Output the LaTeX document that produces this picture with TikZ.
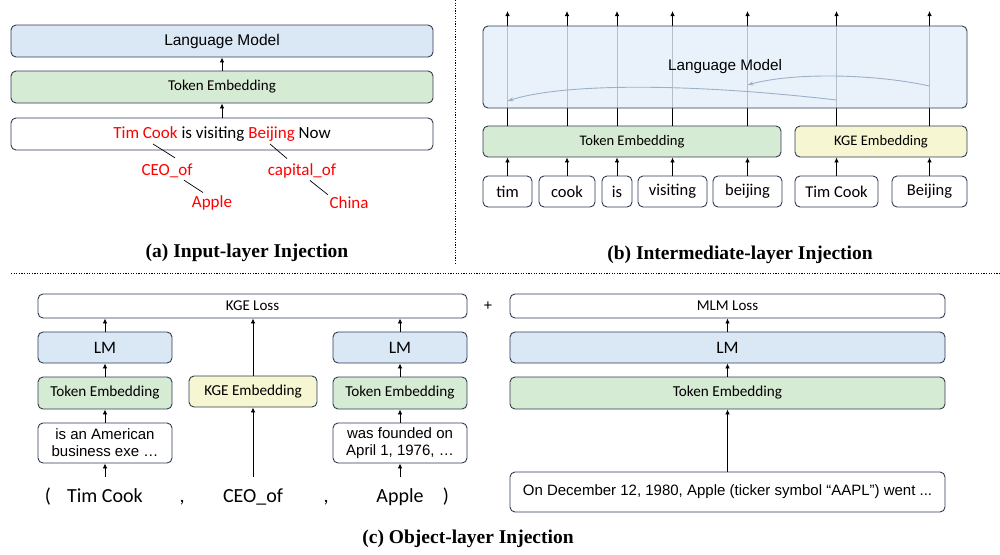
\documentclass[tikz,border=0pt]{standalone}
\usepackage{fontspec}
\setmainfont{Carlito}
\newfontfamily\arialf{Liberation Sans}
\newfontfamily\timesf{Liberation Serif}
\usetikzlibrary{arrows.meta,positioning}

\definecolor{lmblue}{HTML}{DAE8F5}
\definecolor{lmlight}{HTML}{E3EFFA}
\definecolor{embgreen}{HTML}{D6EBD3}
\definecolor{kgeyellow}{HTML}{F6F6D2}
\definecolor{boxline}{HTML}{2F3B52}
\definecolor{curveblue}{HTML}{9DB0C8}

\begin{document}
\begin{tikzpicture}[x=1pt,y=-1pt,
  box/.style={draw=boxline,line width=0.9pt,rounded corners=5pt,inner sep=0pt},
  lmbox/.style={box,fill=lmblue},
  embbox/.style={box,fill=embgreen},
  kgebox/.style={box,fill=kgeyellow},
  txtbox/.style={box,fill=white},
  arr/.style={line width=0.8pt,-{Latex[length=5pt,width=4.5pt]}},
  curve/.style={curveblue,line width=0.9pt,-{Stealth[length=6pt,width=4pt]}},
  rel/.style={text=red,font=\fontsize{17}{20}\selectfont,inner sep=1pt},
  tok/.style={font=\fontsize{16.5}{19}\selectfont},
  word/.style={font=\fontsize{20}{24}\selectfont,inner sep=0pt,text height=14pt,outer ysep=11pt},
  caption/.style={font=\timesf\bfseries\fontsize{19.5}{22}\selectfont},
  sep/.style={line width=0.7pt,dash pattern=on 1.2pt off 1.4pt}]
\useasboundingbox (0,0) rectangle (1000,554);

% separators
\draw[sep] (455,0) -- (455,265);
\draw[sep] (11,273) -- (1000,273);

% (a) input-layer injection
\node[lmbox,minimum width=422,minimum height=32,font=\arialf\fontsize{15.5}{18}\selectfont] (lmA) at (222,41) {Language Model};
\node[embbox,minimum width=422,minimum height=32,font=\fontsize{15}{18}\selectfont] (teA) at (222,87) {Token Embedding};
\node[txtbox,minimum width=422,minimum height=32,font=\fontsize{17}{20}\selectfont] (sentA) at (222,134)
  {\textcolor{red}{Tim Cook} is visiting \textcolor{red}{Beijing} Now};
\draw[arr] (teA) -- (lmA);
\draw[arr] (sentA) -- (teA);
\node[rel] (ceoA) at (167,171) {CEO\_of};
\node[rel] (appleA) at (212,203) {Apple};
\node[rel] (capA) at (302,171) {capital\_of};
\node[rel] (chinaA) at (349,203) {China};
\coordinate (tcFoot) at (153,144);
\coordinate (bjFoot) at (270,144);
\draw[line width=0.7pt] (tcFoot) -- ([xshift=8,yshift=5]ceoA.north);
\draw[line width=0.7pt] ([xshift=17,yshift=-1]ceoA.south) -- ([xshift=-9,yshift=2]appleA.north);
\draw[line width=0.7pt] (bjFoot) -- ([xshift=-15,yshift=4]capA.north);
\draw[line width=0.7pt] ([xshift=8,yshift=-1]capA.south) -- ([xshift=-21,yshift=1]chinaA.north);
\node[caption] (capa) at (247,253) {(a) Input-layer Injection};

% (b) intermediate-layer injection
\node[embbox,minimum width=298,minimum height=31,font=\fontsize{14.6}{17}\selectfont] (teB) at (632,141.5) {Token Embedding};
\node[kgebox,minimum width=172,minimum height=31,font=\fontsize{14.6}{17}\selectfont] (kgeB) at (881,141.5) {KGE Embedding};
\node[txtbox,tok,minimum width=49,minimum height=31] (wTim) at (507.5,191.5) {tim};
\node[txtbox,tok,minimum width=56,minimum height=31] (wCook) at (567,191.5) {cook};
\node[txtbox,tok,minimum width=30,minimum height=31] (wIs) at (617,191.5) {is};
\node[txtbox,tok,minimum width=69,minimum height=31] (wVisiting) at (672.5,191.5) {visiting};
\node[txtbox,tok,minimum width=69,minimum height=31] (wBeijing) at (747.5,191.5) {beijing};
\node[txtbox,tok,minimum width=83,minimum height=31] (eTimCook) at (836.5,191.5) {Tim Cook};
\node[txtbox,tok,minimum width=75,minimum height=31] (eBeijing) at (929.5,191.5) {Beijing};
\coordinate (topB) at (725,11);
\foreach \w in {wTim,wCook,wIs,wVisiting,wBeijing} {
  \draw[arr] (\w.north) -- (\w.north |- teB.south);
  \draw[arr] (\w.north |- teB.north) -- (\w.north |- topB);
}
\foreach \w in {eTimCook,eBeijing} {
  \draw[arr] (\w.north) -- (\w.north |- kgeB.south);
  \draw[arr] (\w.north |- kgeB.north) -- (\w.north |- topB);
}
\node[box,fill=lmlight,fill opacity=0.8,text opacity=1,minimum width=484,minimum height=82,
  font=\arialf\fontsize{15.3}{18}\selectfont] (lmB) at (725,67) {Language Model};
\coordinate (tcLink) at (836.5,100);
\coordinate (bjLink) at (929.5,86);
\draw[curve] (tcLink) .. controls (680,82) and (560,84) .. (wTim.north |- 0,101);
\draw[curve] (bjLink) .. controls (870,73) and (790,73) .. (wBeijing.north |- 0,85);
\node[caption] (capb) at (740,255) {(b) Intermediate-layer Injection};

% (c) object-layer injection
\node[txtbox,minimum width=429,minimum height=24,font=\fontsize{15}{18}\selectfont] (kgeLoss) at (252.5,306) {KGE Loss};
\node[lmbox,minimum width=134,minimum height=31,font=\fontsize{17.5}{20}\selectfont] (lmL) at (105,347.5) {LM};
\node[embbox,minimum width=134,minimum height=32,font=\fontsize{15.2}{18}\selectfont] (teL) at (105,393) {Token Embedding};
\node[txtbox,minimum width=134,minimum height=40,align=center,font=\arialf\fontsize{15}{17}\selectfont] (descL) at (105,443)
  {is an American\\business exe \dots};
\node[kgebox,minimum width=128,minimum height=31,font=\fontsize{15.2}{18}\selectfont] (kgeC) at (253,391.5) {KGE Embedding};
\node[lmbox,minimum width=134,minimum height=31,font=\fontsize{17.5}{20}\selectfont] (lmR) at (400,347.5) {LM};
\node[embbox,minimum width=134,minimum height=32,font=\fontsize{15.2}{18}\selectfont] (teR) at (400,393) {Token Embedding};
\node[txtbox,minimum width=134,minimum height=40,align=center,font=\arialf\fontsize{15}{17}\selectfont] (descR) at (400,443)
  {was founded on\\April 1, 1976, \dots};
\node[word,anchor=base] (lpar) at (48,502) {(};
\node[word,anchor=base] (tcC) at (105,502) {Tim Cook};
\node[word,anchor=base] (comma1) at (182,502) {,};
\node[word,anchor=base] (ceoC) at (253,502) {CEO\_of};
\node[word,anchor=base] (comma2) at (326,502) {,};
\node[word,anchor=base] (appleC) at (400,502) {Apple};
\node[word,anchor=base] (rpar) at (446,502) {)};
\draw[arr] (tcC) -- (descL);
\draw[arr] (descL) -- (teL);
\draw[arr] (teL) -- (lmL);
\draw[arr] (lmL) -- (lmL |- kgeLoss.south);
\draw[arr] (ceoC) -- (kgeC);
\draw[arr] (kgeC) -- (kgeC |- kgeLoss.south);
\draw[arr] (appleC) -- (descR);
\draw[arr] (descR) -- (teR);
\draw[arr] (teR) -- (lmR);
\draw[arr] (lmR) -- (lmR |- kgeLoss.south);
\node[font=\arialf\fontsize{15}{18}\selectfont] (plus) at (488,306) {+};
\node[txtbox,minimum width=435,minimum height=24,font=\fontsize{15}{18}\selectfont] (mlmLoss) at (727.5,306) {MLM Loss};
\node[lmbox,minimum width=435,minimum height=31,font=\fontsize{17.5}{20}\selectfont] (lmM) at (727.5,347.5) {LM};
\node[embbox,minimum width=435,minimum height=32,font=\fontsize{15.2}{18}\selectfont] (teM) at (727.5,393) {Token Embedding};
\node[txtbox,minimum width=435,minimum height=40,font=\arialf\fontsize{15}{18}\selectfont] (descM) at (727.5,492)
  {On December 12, 1980, Apple (ticker symbol “AAPL”) went ...};
\draw[arr] (descM) -- (teM);
\draw[arr] (teM) -- (lmM);
\draw[arr] (lmM) -- (mlmLoss);
\node[caption] (capc) at (468,539) {(c) Object-layer Injection};
\end{tikzpicture}
\end{document}
